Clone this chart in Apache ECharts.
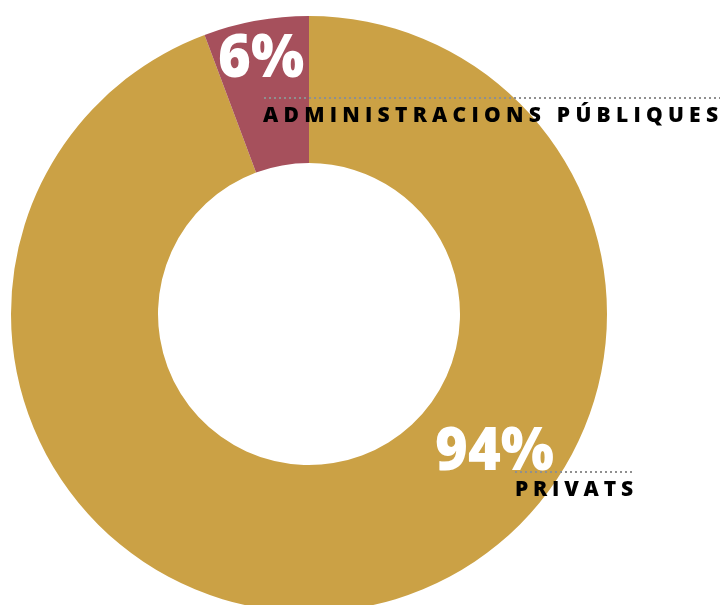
<!DOCTYPE html>
<html><head><meta charset="utf-8">
<script src="https://cdn.jsdelivr.net/npm/echarts@6/dist/echarts.min.js"></script>
<style>html,body{margin:0;padding:0;background:#fff}#c{width:723px;height:605px}</style>
</head><body><div id="c"></div>
<script>
const categories = ['PRIVATS', 'ADMINISTRACIONS PÚBLIQUES'];
const values = [94.3, 5.7];
const colors = ['#CBA145', '#A6505C'];

const chart = echarts.init(document.getElementById('c'), null, {renderer: 'canvas'});
const bigFont = '800 61px "Open Sans", Lato, sans-serif';
const smallFont = '800 21px "Open Sans", Lato, sans-serif';
const dotted = {stroke: '#8f8f8f', lineWidth: 2, lineDash: [2, 3]};

const mctx = document.createElement('canvas').getContext('2d');
function spacedText(str, x, yMid, width, font) {
  mctx.font = font;
  const chars = str.split('');
  const ws = chars.map(c => mctx.measureText(c).width);
  const total = ws.reduce((a, b) => a + b, 0);
  const ls = (width - total) / (chars.length - 1);
  let cx = x;
  const children = [];
  chars.forEach((c, i) => {
    children.push({type: 'text', z: 10, style: {text: c, x: cx, y: yMid, font: font, fill: '#000', textVerticalAlign: 'middle'}});
    cx += ws[i] + ls;
  });
  return {type: 'group', z: 10, children};
}
function bigText(str, x, yMid) {
  return {type: 'text', z: 10, x: x, y: yMid, scaleX: 0.92,
    style: {text: str, x: 0, y: 0, font: bigFont, fill: '#fff', textVerticalAlign: 'middle'}};
}

chart.setOption({
  animation: false,
  series: [{
    type: 'pie',
    center: [309, 314],
    radius: [151, 298],
    startAngle: 90,
    clockwise: true,
    silent: true,
    label: {show: false},
    labelLine: {show: false},
    data: categories.map((c, i) => ({name: c, value: values[i], itemStyle: {color: colors[i]}}))
  }],
  graphic: [
    bigText(Math.round(values[1]) + '%', 218, 60),
    {type: 'line', z: 10, shape: {x1: 264, y1: 98, x2: 720, y2: 98}, style: dotted},
    spacedText(categories[1], 263, 116, 455, smallFont),
    bigText(Math.round(values[0]) + '%', 435, 453),
    {type: 'line', z: 10, shape: {x1: 515, y1: 472, x2: 635, y2: 472}, style: dotted},
    spacedText(categories[0], 515, 490, 118, smallFont)
  ]
});
</script></body></html>
